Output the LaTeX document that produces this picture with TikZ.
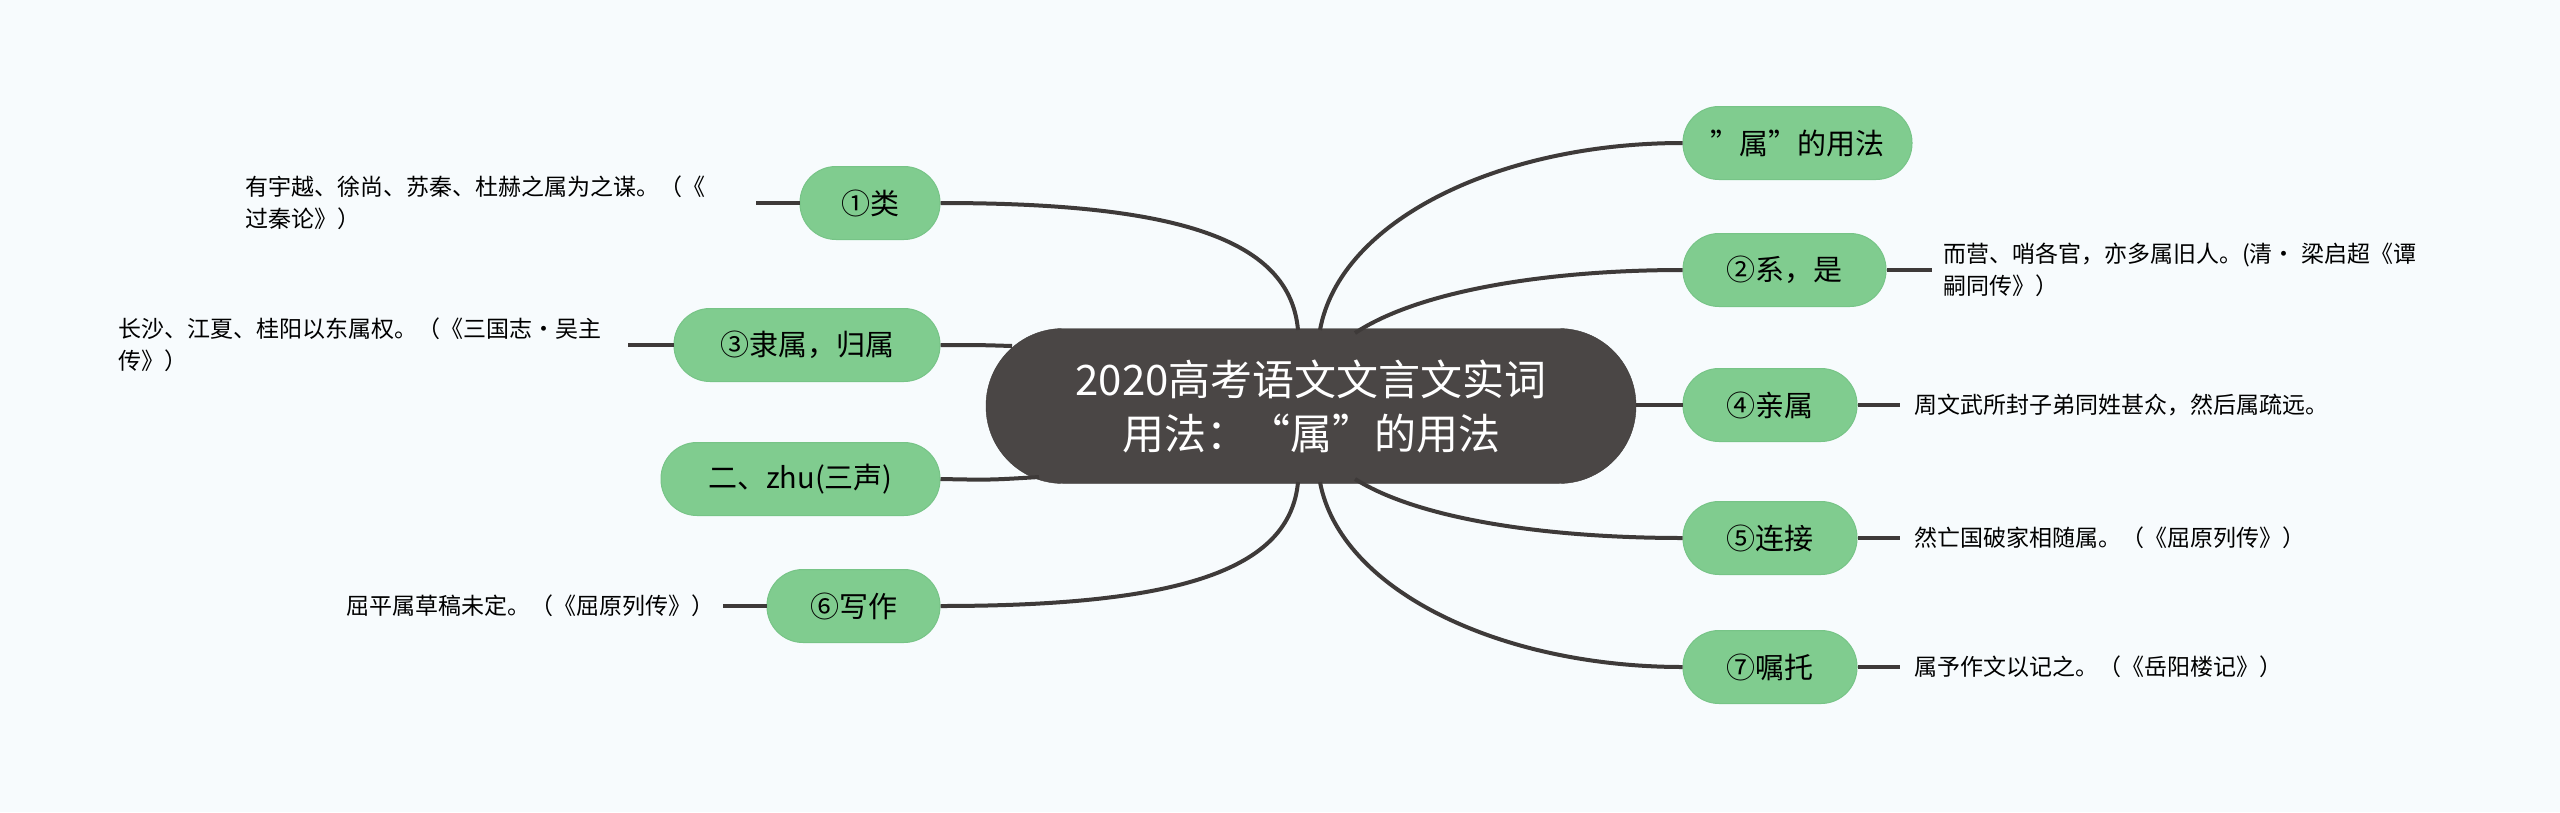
\documentclass[tikz,border=0pt]{standalone}
\usepackage{fontspec}
\setmainfont{Noto Sans CJK SC}
\begin{document}
\begin{tikzpicture}[x=1pt,y=-1pt,
  lk/.style={draw=linec,line width=4pt},
  topic/.style={fill=greenf,draw=greend,line width=1pt,rounded corners=36pt,minimum height=73pt,inner sep=0pt,text=black,font=\fontsize{29}{32}\selectfont},
  leaf/.style={anchor=west,align=left,inner sep=0pt,font=\fontsize{23}{32}\selectfont,text=black}]
\definecolor{linec}{HTML}{3E3A39}
\definecolor{greenf}{HTML}{80CC8F}
\definecolor{greend}{HTML}{77C487}
\definecolor{cent}{HTML}{4A4645}
\definecolor{bg}{HTML}{F7FBFD}
\fill[bg] (0,0) rectangle (2560,812);
\useasboundingbox (0,0) rectangle (2560,812);
% center
\node[fill=cent,draw=linec,rounded corners=77pt,minimum width=650pt,minimum height=155pt,align=center,text=white,font=\fontsize{42}{54}\selectfont] (c) at (1311,406) {2020高考语文文言文实词\\用法：“属”的用法};
% left topics
\node[topic,minimum width=140pt] (l1) at (870,203) {①类};
\node[topic,minimum width=266pt] (l3) at (807,345) {③隶属，归属};
\node[topic,minimum width=279pt] (l2) at (800.5,479) {二、zhu(三声)};
\node[topic,minimum width=173pt] (l6) at (853.5,606) {⑥写作};
% right topics
\node[topic,minimum width=229pt] (r0) at (1797.5,143) {{\char"22}属{\char"22}的用法};
\node[topic,minimum width=203pt] (r2) at (1784.5,270) {②系，是};
\node[topic,minimum width=174pt] (r4) at (1770,405) {④亲属};
\node[topic,minimum width=174pt] (r5) at (1770,538) {⑤连接};
\node[topic,minimum width=174pt] (r7) at (1770,667) {⑦嘱托};
% leaves
\node[leaf] (t1) at (245,203) {有宇越、徐尚、苏秦、杜赫之属为之谋。（《\\过秦论》）};
\node[leaf] (t3) at (118,345) {长沙、江夏、桂阳以东属权。（《三国志·吴主\\传》）};
\node[leaf] (t6) at (346,606) {屈平属草稿未定。（《屈原列传》）};
\node[leaf] (t2) at (1943,270) {而营、哨各官，亦多属旧人。(清· 梁启超《谭\\嗣同传》）};
\node[leaf] (t4) at (1914,405) {周文武所封子弟同姓甚众，然后属疏远。};
\node[leaf] (t5) at (1914,538) {然亡国破家相随属。（《屈原列传》）};
\node[leaf] (t7) at (1914,667) {属予作文以记之。（《岳阳楼记》）};
% leaf connectors
\coordinate (e1) at (756,203); \coordinate (e3) at (628,345); \coordinate (e6) at (723,606);
\coordinate (e2) at (1932,270); \coordinate (e4) at (1900,405); \coordinate (e5) at (1900,538); \coordinate (e7) at (1900,667);
\draw[lk] (l1.west) -- (e1);
\draw[lk] (l3.west) -- (e3);
\draw[lk] (l6.west) -- (e6);
\draw[lk] (r2.east) -- (e2);
\draw[lk] (r4.east) -- (e4);
\draw[lk] (r5.east) -- (e5);
\draw[lk] (r7.east) -- (e7);
% main connectors
\coordinate (ctl) at (1298,330); \coordinate (ctr) at (1320,330); \coordinate (ctr2) at (1355,333);
\coordinate (cbl) at (1298,482); \coordinate (cbr) at (1320,482); \coordinate (cbr2) at (1355,479);
\coordinate (cl3) at (1012,346); \coordinate (cl2) at (1039,477); \coordinate (cr4) at (1636,405);
\draw[lk] (ctl) .. controls (1290,240) and (1180,203) .. (l1.east);
\draw[lk] (cl3) .. controls (980,345) .. (l3.east);
\draw[lk] (cl2) .. controls (990,480) .. (l2.east);
\draw[lk] (cbl) .. controls (1290,570) and (1180,606) .. (l6.east);
\draw[lk] (ctr) .. controls (1340,220) and (1500,143) .. (r0.west);
\draw[lk] (ctr2) .. controls (1420,290) and (1550,270) .. (r2.west);
\draw[lk] (cr4) -- (r4.west);
\draw[lk] (cbr2) .. controls (1420,520) and (1550,538) .. (r5.west);
\draw[lk] (cbr) .. controls (1340,590) and (1500,667) .. (r7.west);
\end{tikzpicture}
\end{document}
